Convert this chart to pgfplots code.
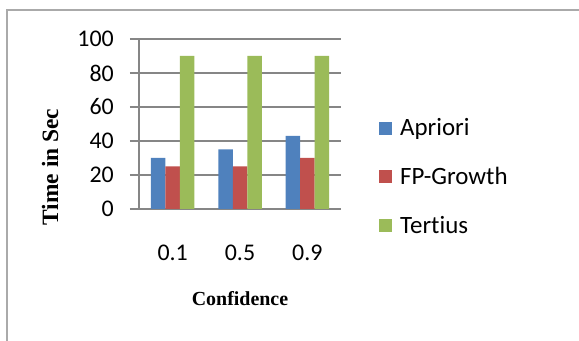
\documentclass[border=0pt]{standalone}
\usepackage{fontspec}
\setmainfont{Carlito}[Ligatures=NoCommon]
\newfontfamily\labelfont{Liberation Serif}
\usepackage{pgfplots}
\pgfplotsset{compat=1.18}
\definecolor{cblue}{RGB}{79,129,189}
\definecolor{cred}{RGB}{192,80,77}
\definecolor{cgreen}{RGB}{155,187,89}
\definecolor{gridgray}{RGB}{134,134,134}
\definecolor{framegray}{RGB}{170,170,170}
\begin{document}
\begin{tikzpicture}
\path[use as bounding box] (0,0) rectangle (579bp,341bp);
\draw[framegray, line width=2bp] (7bp,0) -- (7bp,331bp) -- (580bp,331bp);
\begin{axis}[
  at={(139bp,132bp)}, anchor=south west,
  scale only axis, width=202bp, height=170bp,
  ybar=0pt, bar width=14.5bp,
  xmin=-0.5, xmax=2.5, ymin=0, ymax=100,
  xtick=data, xticklabels={0.1,0.5,0.9},
  ytick={0,20,...,100},
  axis x line*=bottom, axis y line*=left,
  axis line style={gridgray, line width=1.2bp, -},
  ymajorgrids, grid style={gridgray, line width=1.2bp},
  tick align=outside, major tick length=9bp,
  xtick style={draw=none}, ytick style={gridgray, line width=1.2bp},
  tick label style={font=\fontsize{24}{28}\selectfont, text=black},
  yticklabel style={anchor=east, inner sep=0pt, xshift=-16bp},
  xticklabel style={anchor=north, inner sep=0pt, yshift=-27bp},
  /pgf/number format/assume math mode=true,
  xlabel={Confidence}, ylabel={Time in Sec},
  xlabel style={font=\labelfont\fontsize{20}{24}\selectfont\bfseries, at={(axis description cs:0.5,-0.529)}, anchor=center},
  ylabel style={font=\labelfont\fontsize{23.5}{26}\selectfont\bfseries, at={(axis description cs:-0.44,0.247)}, anchor=center},
  legend style={draw=none, fill=none, at={(axis description cs:1.188,0.19)}, anchor=west, inner sep=0pt, row sep=26bp, font=\fontsize{25}{29}\selectfont,
    /tikz/every odd column/.append style={column sep=6bp}},
  legend cell align=left,
  legend image code/.code={\fill[#1] (0bp,-6.5bp) rectangle (13bp,6.5bp);},
]
\addplot[draw=none, fill=cblue] coordinates {(0,30) (1,35) (2,43)};
\addplot[draw=none, fill=cred] coordinates {(0,25) (1,25) (2,30)};
\addplot[draw=none, fill=cgreen] coordinates {(0,90) (1,90) (2,90)};
\legend{Apriori, FP-Growth, Tertius}
\end{axis}
\end{tikzpicture}
\end{document}
